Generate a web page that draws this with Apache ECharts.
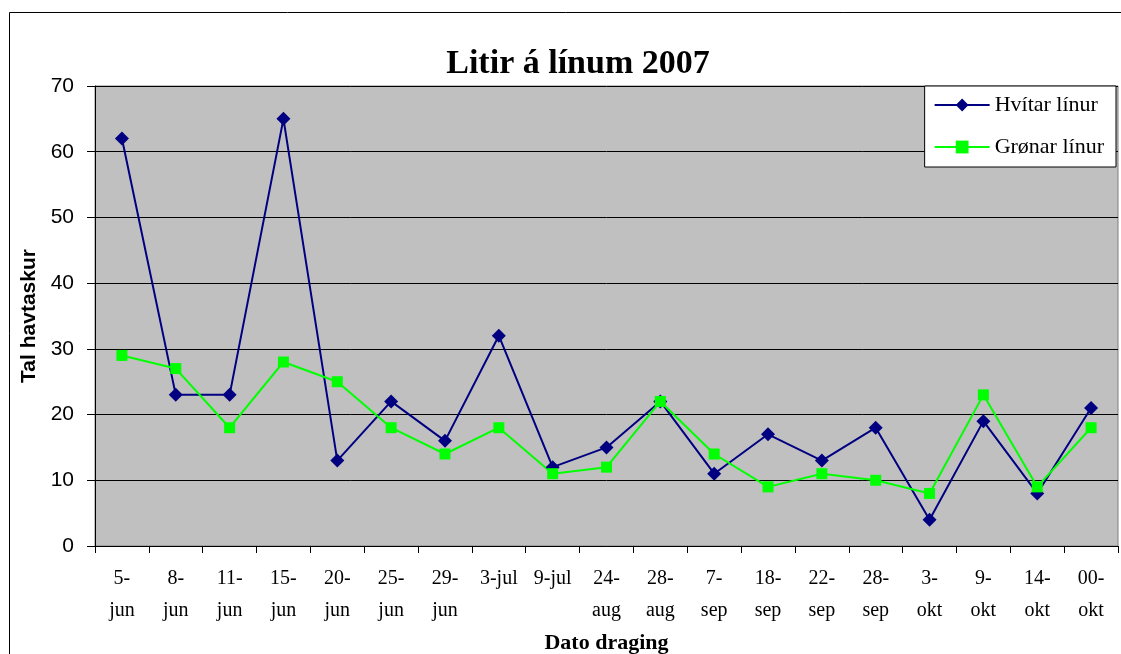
<!DOCTYPE html>
<html>
<head>
<meta charset="utf-8">
<script src="https://cdn.jsdelivr.net/npm/echarts@6/dist/echarts.min.js"></script>
<style>
  html, body { margin: 0; padding: 0; background: #fff; }
  #chart { width: 1121px; height: 654px; }
</style>
</head>
<body>
<div id="chart"></div>
<script>
  var categories = ['5-\njun', '8-\njun', '11-\njun', '15-\njun', '20-\njun', '25-\njun', '29-\njun',
    '3-jul', '9-jul', '24-\naug', '28-\naug', '7-\nsep', '18-\nsep', '22-\nsep', '28-\nsep',
    '3-\nokt', '9-\nokt', '14-\nokt', '00-\nokt'];
  var hvitar = [62, 23, 23, 65, 13, 22, 16, 32, 12, 15, 22, 11, 17, 13, 18, 4, 19, 8, 21];
  var gronar = [29, 27, 18, 28, 25, 18, 14, 18, 11, 12, 22, 14, 9, 11, 10, 8, 23, 9, 18];

  var chartDom = document.getElementById('chart');
  var myChart = echarts.init(chartDom, null, { renderer: 'canvas' });

  var serif = '"Liberation Serif", "Times New Roman", serif';
  var sans = '"Liberation Sans", Arial, sans-serif';

  var option = {
    animation: false,
    backgroundColor: '#fff',
    title: {
      text: 'Litir á línum 2007',
      left: 573,
      top: 42,
      textAlign: 'center',
      textStyle: { fontFamily: serif, fontWeight: 'bold', fontSize: 34, color: '#000' }
    },
    graphic: [{
      type: 'rect',
      shape: { x: 9.5, y: 12.5, width: 1200, height: 700 },
      style: { fill: 'none', stroke: '#000', lineWidth: 1 },
      z: -1
    }],
    legend: {
      orient: 'vertical',
      right: 5,
      top: 86,
      itemWidth: 55,
      itemHeight: 16,
      itemGap: 20,
      padding: [8, 12, 9, 9],
      backgroundColor: '#fff',
      borderColor: '#000',
      borderWidth: 1,
      borderRadius: 0,
      textStyle: { fontFamily: serif, fontSize: 22, color: '#000' }
    },
    grid: {
      left: 95,
      right: 3,
      top: 86,
      bottom: 108,
      outerBoundsMode: 'none',
      show: true,
      backgroundColor: '#C0C0C0',
      borderColor: '#808080',
      borderWidth: 1
    },
    xAxis: {
      type: 'category',
      data: categories,
      boundaryGap: true,
      name: 'Dato draging',
      nameLocation: 'middle',
      nameGap: 76,
      nameTextStyle: { fontFamily: serif, fontWeight: 'bold', fontSize: 22, color: '#000' },
      axisLine: { lineStyle: { color: '#000', width: 1 } },
      axisTick: { show: true, alignWithLabel: false, length: 7, lineStyle: { color: '#000' } },
      axisLabel: {
        interval: 0,
        margin: 17,
        fontFamily: serif,
        fontSize: 20,
        lineHeight: 32,
        color: '#000'
      },
      splitLine: { show: false }
    },
    yAxis: {
      type: 'value',
      min: 0,
      max: 70,
      interval: 10,
      name: 'Tal havtaskur',
      nameLocation: 'middle',
      nameGap: 53,
      nameTextStyle: { fontFamily: sans, fontWeight: 'bold', fontSize: 21, color: '#000' },
      axisLine: { show: true, lineStyle: { color: '#000', width: 1 } },
      axisTick: { show: true, length: 8, lineStyle: { color: '#000' } },
      axisLabel: { margin: 21, fontFamily: sans, fontSize: 21, color: '#000' },
      splitLine: { show: true, lineStyle: { color: '#000', width: 1 } }
    },
    series: [{
      name: 'Hvítar línur',
      type: 'line',
      data: hvitar,
      symbol: 'diamond',
      symbolSize: 14,
      itemStyle: { color: '#000080' },
      lineStyle: { color: '#000080', width: 2 }
    }, {
      name: 'Grønar línur',
      type: 'line',
      data: gronar,
      symbol: 'rect',
      symbolSize: 11,
      itemStyle: { color: '#00FF00' },
      lineStyle: { color: '#00FF00', width: 2 }
    }]
  };

  myChart.setOption(option);
  window.addEventListener('resize', myChart.resize);
</script>
</body>
</html>
